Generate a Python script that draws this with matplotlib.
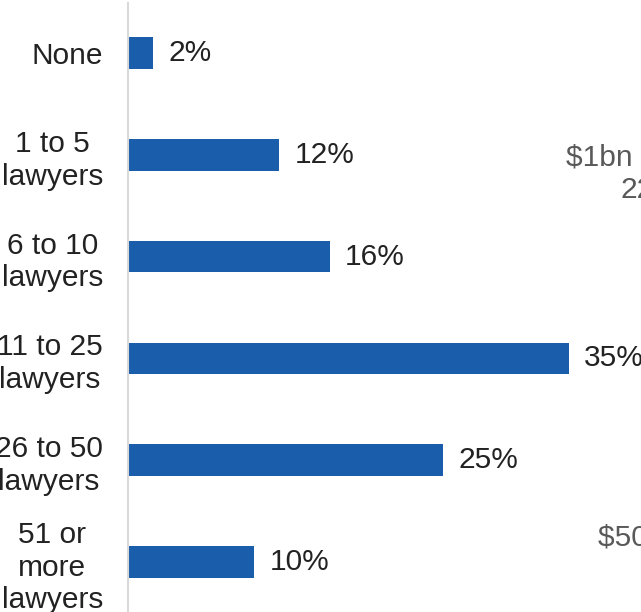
import numpy as np
import matplotlib.pyplot as plt

plt.rcParams['font.family'] = ['Liberation Sans', 'DejaVu Sans']

categories = ["None", "1 to 5\nlawyers", "6 to 10\nlawyers", "11 to 25\nlawyers",
              "26 to 50\nlawyers", "51 or\nmore\nlawyers"]
shares = [2, 12, 16, 35, 25, 10]
value_labels = ["2%", "12%", "16%", "35%", "25%", "10%"]

# text from the neighbouring chart, cut off at the right edge
side_texts = [r"\$1bn to \$5bn", "22%", r"\$500m to \$1bn"]

W, H = 641, 612
fig = plt.figure(figsize=(W / 100, H / 100), dpi=100)
ax = fig.add_axes([128 / W, 0, (W - 128) / W, 1])

y = np.arange(len(categories))
ax.barh(y, shares, height=0.31, color="#1a5dab")
for yi, v, lab in zip(y, shares, value_labels):
    ax.annotate(lab, (v, yi), xytext=(11, 0), textcoords="offset points",
                va="center", ha="left", fontsize=21.5, color="#222222")

ax.set_xlim(0, (W - 128) / 12.6)
ax.set_ylim(5.49, -0.52)
ax.set_yticks(y)
ax.set_yticklabels(categories, fontsize=21.5, color="#222222",
                   multialignment="center", linespacing=1.22)
ax.tick_params(axis="y", length=0, pad=18)
ax.set_xticks([])
for s in ["top", "right", "bottom"]:
    ax.spines[s].set_visible(False)
ax.spines["left"].set_color("#d9d9d9")
ax.spines["left"].set_linewidth(1.5)
ax.spines["left"].set_bounds(5.49, -0.49)

fig.text(566 / W, 1 - 157 / H, side_texts[0], ha="left", va="center",
         fontsize=21.5, color="#595959")
fig.text(621 / W, 1 - 190 / H, side_texts[1], ha="left", va="center",
         fontsize=21.5, color="#595959")
fig.text(598 / W, 1 - 538 / H, side_texts[2], ha="left", va="center",
         fontsize=21.5, color="#595959")

fig.savefig("out.png", dpi=100)
